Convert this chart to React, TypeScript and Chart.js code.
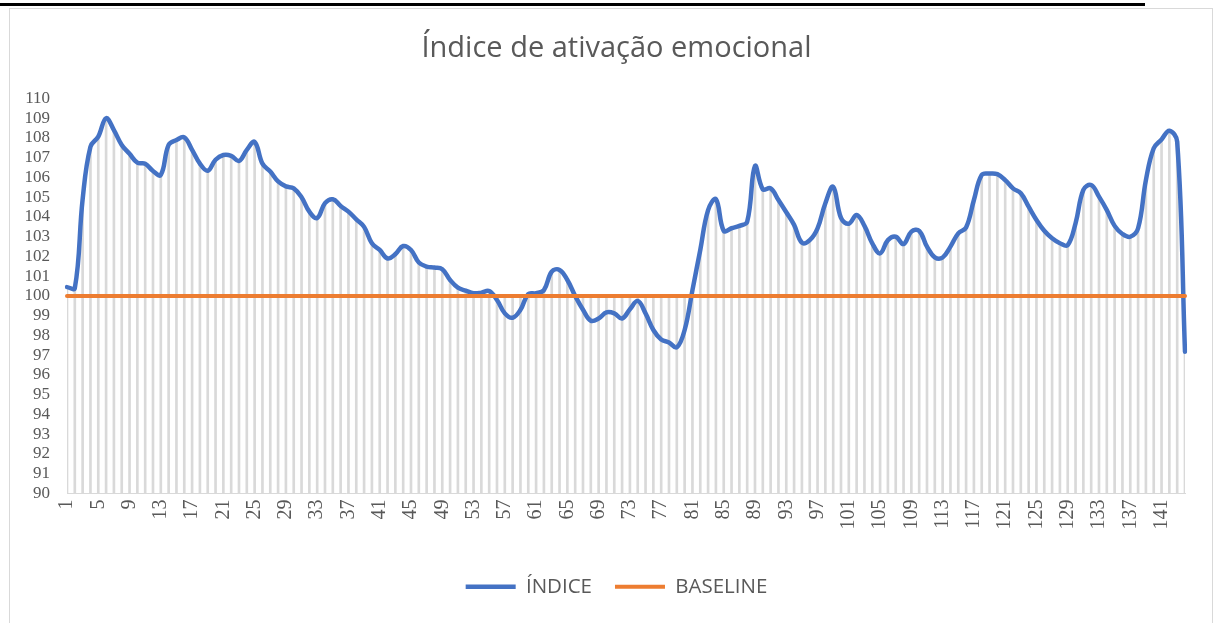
import { useEffect, useRef } from "react";
import { Chart, registerables } from "chart.js";

Chart.register(...registerables);

const TITLE = "Índice de ativação emocional";

const indice: number[] = [
  100.45, 100.4, 104.9, 107.56, 108.07, 109.0, 108.4, 107.65, 107.2, 106.75,
  106.7, 106.33, 106.13, 107.65, 107.9, 108.03, 107.4, 106.7, 106.34, 106.9,
  107.14, 107.1, 106.84, 107.4, 107.8, 106.7, 106.3, 105.8, 105.55, 105.45,
  105.0, 104.27, 103.95, 104.7, 104.9, 104.56, 104.27, 103.88, 103.5, 102.67,
  102.33, 101.9, 102.12, 102.53, 102.33, 101.7, 101.49, 101.44, 101.35, 100.81,
  100.42, 100.27, 100.14, 100.17, 100.25, 99.8, 99.12, 98.9, 99.3, 100.1,
  100.14, 100.3, 101.23, 101.32, 100.81, 100.0, 99.3, 98.75, 98.86, 99.17,
  99.12, 98.86, 99.33, 99.75, 99.12, 98.28, 97.8, 97.65, 97.4, 98.28,
  100.3, 102.33, 104.35, 104.9, 103.3, 103.43, 103.55, 103.76, 106.58, 105.4,
  105.45, 104.86, 104.24, 103.6, 102.7, 102.83, 103.43, 104.7, 105.53, 103.95,
  103.66, 104.1, 103.55, 102.67, 102.16, 102.83, 103.0, 102.63, 103.26, 103.3,
  102.5, 101.96, 101.95, 102.5, 103.17, 103.47, 104.86, 106.13, 106.2, 106.17,
  105.87, 105.45, 105.2, 104.52, 103.85, 103.3, 102.92, 102.67, 102.58, 103.68,
  105.37, 105.62, 105.03, 104.35, 103.55, 103.14, 103.0, 103.43, 105.87, 107.48,
  107.93, 108.37, 107.81, 97.18,
];

const BASELINE_VALUE = 100;
const baseline: number[] = indice.map(() => BASELINE_VALUE);

const categories: string[] = indice.map((_, i) => String(i + 1));

const Y_MIN = 90;
const Y_MAX = 110;

// drop lines from the top of the highest series down to the axis floor
const dropLines: [number, number][] = indice.map((v, i) => [Y_MIN, Math.max(v, baseline[i])]);

export default function App() {
  const ref = useRef<HTMLCanvasElement>(null);

  useEffect(() => {
    if (!ref.current) return;
    const chart = new Chart(ref.current, {
      type: "line",
      data: {
        labels: categories,
        datasets: [
          {
            type: "line",
            label: "ÍNDICE",
            data: indice,
            borderColor: "#4472C4",
            backgroundColor: "#4472C4",
            borderWidth: 4.5,
            pointRadius: 0,
            tension: 0.4,
            borderCapStyle: "round",
            borderJoinStyle: "round",
            order: 1,
          },
          {
            type: "line",
            label: "BASELINE",
            data: baseline,
            borderColor: "#ED7D31",
            backgroundColor: "#ED7D31",
            borderWidth: 4,
            pointRadius: 0,
            borderCapStyle: "round",
            order: 0,
          },
          {
            type: "bar",
            label: "drop",
            data: dropLines as any,
            backgroundColor: "#d9d9d9",
            barThickness: 2,
            order: 2,
          } as any,
        ],
      },
      options: {
        responsive: false,
        animation: false,
        layout: { padding: { left: 48, right: 33, top: 0, bottom: 16 } },
        scales: {
          x: {
            type: "category",
            offset: false,
            grid: { display: false, drawTicks: false, offset: false },
            border: { display: true, color: "#d9d9d9", width: 1 },
            afterFit: (s: any) => {
              s.height = 60;
            },
            ticks: {
              autoSkip: false,
              minRotation: 90,
              maxRotation: 90,
              padding: 6,
              color: "#595959",
              font: { family: "Liberation Serif", size: 20 },
              callback: (_v: any, i: number) => (i % 4 === 0 ? categories[i] : ""),
            },
          },
          y: {
            min: Y_MIN,
            max: Y_MAX,
            grid: { display: false, drawTicks: false },
            border: { display: false },
            afterFit: (s: any) => {
              s.width = 19;
              // let the tick labels extend into the left padding without clipping
              s._computeLabelArea = () => undefined;
            },
            ticks: {
              autoSkip: false,
              stepSize: 1,
              padding: 17,
              color: "#595959",
              font: { family: "Liberation Serif", size: 17 },
            },
          },
        },
        plugins: {
          tooltip: { enabled: false },
          title: {
            display: true,
            text: TITLE,
            color: "#595959",
            font: { family: "Open Sans", size: 29, weight: "normal" },
            padding: { top: 31.6, bottom: 32.1 },
          },
          legend: {
            position: "bottom",
            labels: {
              usePointStyle: true,
              pointStyle: "line",
              pointStyleWidth: 50,
              boxWidth: 50,
              color: "#595959",
              font: { family: "Open Sans", size: 20.5 },
              padding: 23,
              filter: (item: any) => item.datasetIndex !== 2,
              sort: (a: any, b: any) => a.datasetIndex - b.datasetIndex,
            },
          },
        },
      },
    });
    return () => chart.destroy();
  }, []);

  return (
    <div style={{ position: "fixed", left: 0, top: 0, width: 1218, height: 623, background: "#fff" }}>
      <div
        style={{
          position: "absolute",
          left: 9,
          top: 8,
          width: 1204,
          height: 630,
          border: "1px solid #d9d9d9",
          boxSizing: "border-box",
        }}
      />
      <div style={{ position: "absolute", left: 0, top: 3, width: 1145, height: 3, background: "#000" }} />
      <canvas ref={ref} width={1218} height={623} style={{ position: "absolute", left: 0, top: 0, width: 1218, height: 623 }} />
    </div>
  );
}
